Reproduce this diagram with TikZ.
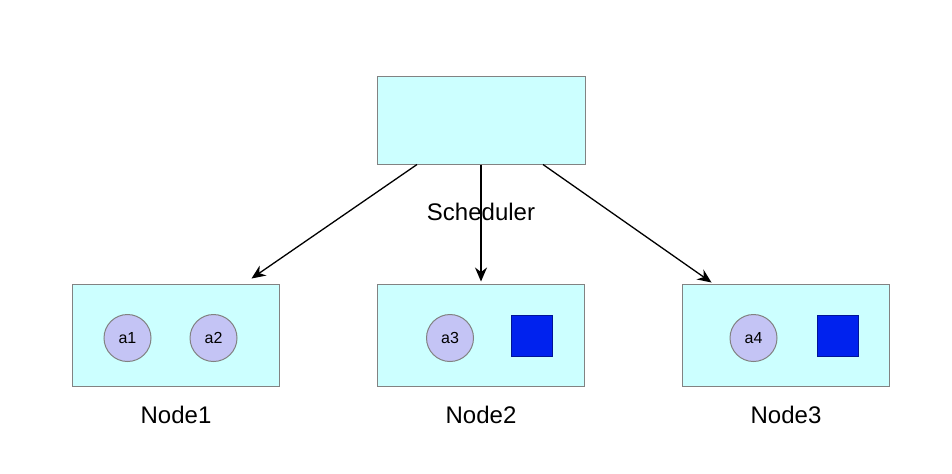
\documentclass[tikz,border=0pt]{standalone}
\usepackage{fontspec}
\setmainfont{Liberation Sans}
\usepackage{xcolor}
\usepackage{tikz}
\usetikzlibrary{arrows.meta,positioning}
\definecolor{boxcyan}{RGB}{204,255,255}
\definecolor{boxgray}{RGB}{130,130,130}
\definecolor{podlilac}{RGB}{196,196,245}
\definecolor{slotblue}{RGB}{0,34,238}
\definecolor{slotedge}{RGB}{0,20,150}

\begin{document}
\begin{tikzpicture}[
    x=1pt, y=1pt,
    node distance=59.5pt and 48.5pt,
    hostbox/.style={rectangle, draw=boxgray, fill=boxcyan, line width=0.5pt, minimum width=103.5pt, minimum height=51pt, inner sep=0pt},
    pod/.style={circle, draw=boxgray, fill=podlilac, line width=0.5pt, minimum size=23.5pt, inner sep=0pt, font=\fontsize{8}{9}\selectfont},
    slot/.style={rectangle, draw=slotedge, fill=slotblue, line width=0.5pt, minimum size=20.5pt, inner sep=0pt},
    lbl/.style={inner sep=0pt, font=\fontsize{12}{14}\selectfont},
    link/.style={-{Stealth[length=7pt,width=6pt]}, line width=0.65pt}
]
\useasboundingbox (0,0) rectangle (476,-236.5);

\node[hostbox, minimum width=104pt, minimum height=44pt] (sched) at (240.5,-60) {};
\node[hostbox, below=of sched] (n2) {};
\node[hostbox, left=of n2] (n1) {};
\node[hostbox, right=of n2] (n3) {};

% pods and free slots
\node[pod] (a1) at ([shift={(-24.25,-1.5)}]n1.center) {a1};
\node[pod] (a2) at ([shift={(18.75,-1.5)}]n1.center) {a2};
\node[pod] (a3) at ([shift={(-15.5,-1.5)}]n2.center) {a3};
\node[slot] (q2) at ([shift={(25.25,-0.25)}]n2.center) {};
\node[pod] (a4) at ([shift={(-16.25,-1.5)}]n3.center) {a4};
\node[slot] (q3) at ([shift={(26,-0.25)}]n3.center) {};

% labels
\node[lbl] (schedlbl) at ([yshift=-23.5pt]sched.south) {Scheduler};
\node[lbl] (n1lbl) at ([yshift=-14pt]n1.south) {Node1};
\node[lbl] (n2lbl) at ([yshift=-14pt]n2.south) {Node2};
\node[lbl] (n3lbl) at ([yshift=-14pt]n3.south) {Node3};

\draw[link] ([xshift=-32pt]sched.south) -- ([shift={(37.75,2.5)}]n1.north);
\draw[link] (sched.south) -- ([yshift=1pt]n2.north);
\draw[link] ([xshift=31pt]sched.south) -- ([shift={(-37.25,0.5)}]n3.north);
\end{tikzpicture}
\end{document}
